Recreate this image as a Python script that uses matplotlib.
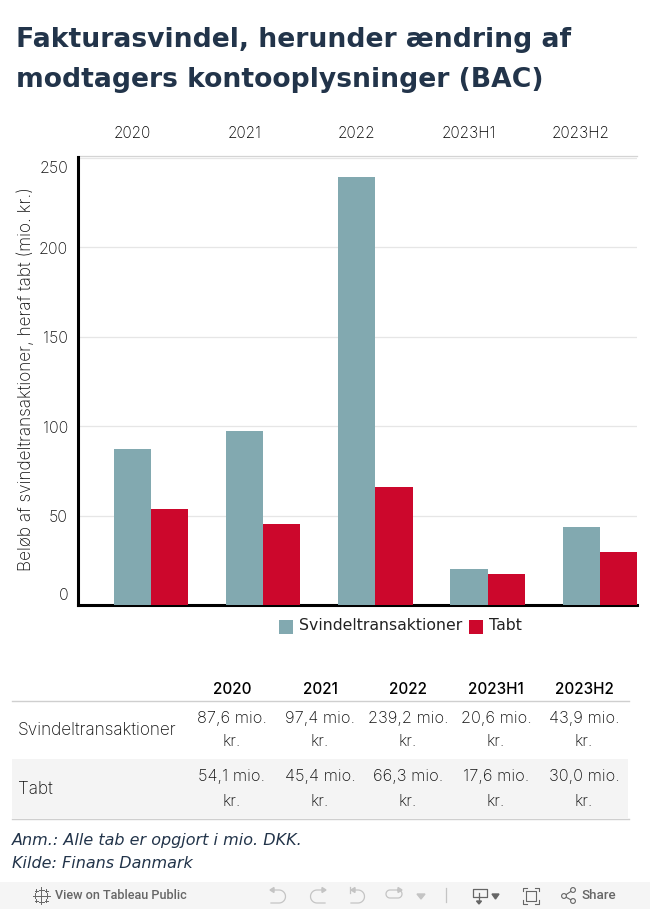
import numpy as np
import matplotlib
matplotlib.use("Agg")
import matplotlib.pyplot as plt
from matplotlib.patches import Rectangle, Circle

years = ["2020", "2021", "2022", "2023H1", "2023H2"]
svindel = [87.6, 97.4, 239.2, 20.6, 43.9]
tabt = [54.1, 45.4, 66.3, 17.6, 30.0]
svindel_txt = ["87,6 mio.", "97,4 mio.", "239,2 mio.", "20,6 mio.", "43,9 mio."]
tabt_txt = ["54,1 mio.", "45,4 mio.", "66,3 mio.", "17,6 mio.", "30,0 mio."]
yticks = [0, 50, 100, 150, 200, 250]

W, H = 650, 909
TEAL = "#82a9b0"
RED = "#cc072c"
DARK = "#22344a"
BODY = "Inter"
BODY_W = "light"

fig = plt.figure(figsize=(W / 100, H / 100), dpi=100, facecolor="white")

# page layer in pixel coords for everything that is not the bars
pg = fig.add_axes([0, 0, 1, 1])
pg.set_xlim(0, W)
pg.set_ylim(H, 0)
pg.axis("off")

pg.text(16, 40, "Fakturasvindel, herunder ændring af", fontsize=19.2, fontweight="bold",
        color=DARK, family="DejaVu Sans", va="center")
pg.text(16, 80, "modtagers kontooplysninger (BAC)", fontsize=19.2, fontweight="bold",
        color=DARK, family="DejaVu Sans", va="center")

# bar chart
left, right, top, bottom = 78, 637, 156.5, 605.4
ax = fig.add_axes([left / W, 1 - bottom / H, (right - left) / W, (bottom - top) / H])
ax.set_zorder(2)
ax.patch.set_alpha(0)
x = np.arange(len(years))
w = 0.332
ax.bar(x - w / 2, svindel, w, color=TEAL, zorder=3)
ax.bar(x + w / 2, tabt, w, color=RED, zorder=3)
ax.set_xlim(-0.65, 4.33)
ax.set_ylim(0, 250.7)
ax.set_yticks(yticks)
ax.tick_params(axis="y", length=0, labelleft=False)
ax.tick_params(axis="x", length=0, labelbottom=False)
ax.yaxis.grid(True, color="#e6e6e6", lw=0.9, zorder=0)
ax.set_axisbelow(True)
for s in ["top", "right"]:
    ax.spines[s].set_visible(False)
ax.spines["left"].set_linewidth(2.2)
ax.spines["bottom"].set_linewidth(2.2)
ax.set_ylabel("Beløb af svindeltransaktioner, heraf tabt (mio. kr.)", fontsize=12.4,
              family=BODY, fontweight=BODY_W, color="#111111")
ax.yaxis.set_label_coords((35 - left) / (right - left), 0.505)

# tableau pulls the first and last tick label inside the axis
for v in yticks:
    shift = {0: 10, 250: -11}.get(v, -2)
    ax.annotate(str(v), xy=(0, v), xycoords=ax.get_yaxis_transform(), xytext=(-10, shift),
                textcoords="offset pixels", ha="right", va="center", fontsize=11.5,
                family=BODY, fontweight=BODY_W, color="#111111")

# column headers on top of the chart
for i, y in enumerate(years):
    ax.text(i - 0.17, 1.052, y, transform=ax.get_xaxis_transform(), ha="center", va="center",
            fontsize=11, family=BODY, fontweight=BODY_W, color="#000000")
pg.plot([78, 637], [156, 156], color="#d4d4d4", lw=0.9)

# legend
pg.add_patch(Rectangle((279, 620), 14, 14, color=TEAL, lw=0))
pg.text(299, 625, "Svindeltransaktioner", fontsize=11.3, family="DejaVu Sans", color="#222222", va="center")
pg.add_patch(Rectangle((469, 620), 14, 14, color=RED, lw=0))
pg.text(489, 625, "Tabt", fontsize=11.3, family="DejaVu Sans", color="#222222", va="center")

# table
col_x = [232, 320, 408, 496, 584]
for cx, y in zip(col_x, years):
    pg.text(cx, 690, y, ha="center", va="center", fontsize=11, fontweight="medium", family=BODY, color="#000000")
pg.plot([12, 629], [700.5, 700.5], color="#cfcfcf", lw=1)
pg.add_patch(Rectangle((12, 759), 616, 59, color="#f4f4f4", lw=0))
pg.plot([12, 629], [818.5, 818.5], color="#cfcfcf", lw=1)
pg.text(18, 730, "Svindeltransaktioner", fontsize=12.4, family=BODY, fontweight=BODY_W, color="#111111", va="center")
pg.text(18, 789, "Tabt", fontsize=12.4, family=BODY, fontweight=BODY_W, color="#111111", va="center")
for cx, a, b in zip(col_x, svindel_txt, tabt_txt):
    for ty, s in [(718, a), (742, "kr."), (777, b), (801, "kr.")]:
        pg.text(cx, ty, s, ha="center", va="center", fontsize=11.8, family=BODY, fontweight=BODY_W, color="#111111")

# notes
pg.text(12, 840, "Anm.: Alle tab er opgjort i mio. DKK.", fontsize=11.5, style="italic",
        family="DejaVu Sans", color=DARK, va="center")
pg.text(12, 863, "Kilde: Finans Danmark", fontsize=11.5, style="italic",
        family="DejaVu Sans", color=DARK, va="center")

# tableau toolbar
pg.add_patch(Rectangle((0, 882), W, 27, color="#f5f5f5", lw=0))
GREY = "#666666"
LIGHT = "#c4c4c4"
pg.text(55, 895.5, "View on Tableau Public", fontsize=9.1, fontweight="medium", family="Roboto", color=GREY, va="center")
pg.text(582, 895.5, "Share", fontsize=9.6, fontweight="medium", family="Roboto", color=GREY, va="center")

# logo, big and small crosses
for cx, cy, r in [(41, 895.5, 3), (41, 889.5, 2.5), (41, 901.5, 2.5), (35, 895.5, 2.5), (47, 895.5, 2.5),
                  (36, 890.5, 1.5), (46, 890.5, 1.5), (36, 900.5, 1.5), (46, 900.5, 1.5)]:
    pg.plot([cx - r, cx + r], [cy, cy], color=GREY, lw=0.7)
    pg.plot([cx, cx], [cy - r, cy + r], color=GREY, lw=0.7)

t = np.linspace(-np.pi / 2, np.pi / 2, 20)
# undo, redo, the pair with the bar, the loop
pg.plot(np.r_[271, 279, 279 + 6.5 * np.cos(t), 271], np.r_[890, 890, 896.5 + 6.5 * np.sin(t), 903], color=LIGHT, lw=0.9)
pg.fill([270, 274, 274], [890, 887.5, 892.5], color=LIGHT)
pg.plot(np.r_[325, 317, 317 - 6.5 * np.cos(t), 325], np.r_[890, 890, 896.5 + 6.5 * np.sin(t), 903], color=LIGHT, lw=0.9)
pg.fill([326, 322, 322], [890, 887.5, 892.5], color=LIGHT)
pg.plot(np.r_[352, 358, 358 + 6.5 * np.cos(t), 351], np.r_[890, 890, 896.5 + 6.5 * np.sin(t), 903], color=LIGHT, lw=0.9)
pg.fill([351, 355, 355], [890, 887.5, 892.5], color=LIGHT)
pg.plot([350, 350], [887, 893], color=LIGHT, lw=0.9)
pg.plot(np.r_[398, 390, 390 - 4 * np.cos(t), 398, 398 + 4 * np.cos(t)[::-1], 398],
        np.r_[890, 890, 894 + 4 * np.sin(t), 898, 894 + 4 * np.sin(t)[::-1], 890], color=LIGHT, lw=0.9)
pg.fill([402, 398, 398], [890, 887.5, 892.5], color=LIGHT)
pg.fill([417, 425, 421], [894, 894, 899], color=LIGHT)
pg.plot([445.5, 445.5], [888, 902], color="#c4c4c4", lw=0.9)
# download
pg.plot([479, 472.5, 472.5, 486.5, 486.5, 479], [897, 897, 889, 889, 897, 897], color=GREY, lw=0.9)
pg.plot([479, 479], [893, 902], color=GREY, lw=0.9)
pg.fill([476.5, 481.5, 479], [901, 901, 904], color=GREY)
pg.fill([492, 499, 495.5], [894, 894, 899], color=GREY)
# fullscreen
pg.plot([526, 536, 536, 526, 526], [891, 891, 901, 901, 891], color=GREY, lw=0.8)
for xs, ys in [([523, 523, 527], [891, 887.5, 887.5]), ([535, 539, 539], [887.5, 887.5, 891]),
               ([523, 523, 527], [900, 903.5, 903.5]), ([535, 539, 539], [903.5, 903.5, 900])]:
    pg.plot(xs, ys, color=GREY, lw=0.8)
# share
pg.plot([564, 573], [896, 890], color=GREY, lw=0.8)
pg.plot([564, 573], [896, 901], color=GREY, lw=0.8)
for cx, cy in [(564, 896), (573, 890), (573, 901)]:
    pg.add_patch(Circle((cx, cy), 2.4, fc="#f5f5f5", ec=GREY, lw=0.8, zorder=3))

fig.savefig("out.png", dpi=100, facecolor="white")
